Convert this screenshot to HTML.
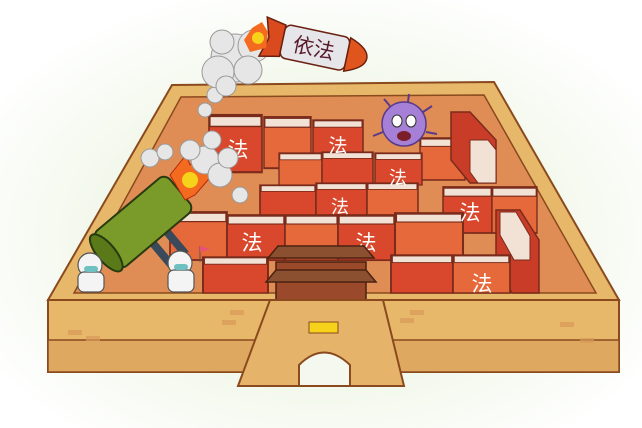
<!DOCTYPE html>
<html><head><meta charset="utf-8"><style>
html,body{margin:0;padding:0;background:#fff}
svg{display:block}
text{font-family:"Liberation Sans","Noto Sans CJK SC",sans-serif}
</style></head><body>
<svg width="642" height="428" viewBox="0 0 642 428" xmlns="http://www.w3.org/2000/svg">
<defs>
<radialGradient id="bg" cx="0.5" cy="0.55" r="0.6">
<stop offset="0.6" stop-color="#f3f8ec"/><stop offset="1" stop-color="#ffffff"/>
</radialGradient>
<g id="bk"><rect x="0" y="0" width="50" height="40" fill="#d9482c" stroke="#7a2b1b" stroke-width="1.5"/><rect x="1" y="1" width="48" height="7" fill="#f2e2d6" stroke="#7a2b1b" stroke-width="1"/></g>
<g id="bko"><rect x="0" y="0" width="50" height="40" fill="#e5693a" stroke="#7a2b1b" stroke-width="1.5"/><rect x="1" y="1" width="48" height="7" fill="#f2e2d6" stroke="#7a2b1b" stroke-width="1"/></g>
</defs>
<rect width="642" height="428" fill="url(#bg)"/>
<!-- wall top -->
<polygon points="172,85 494,82 619,300 48,300" fill="#e8b86a" stroke="#8a4a1e" stroke-width="2"/>
<!-- floor -->
<polygon points="181,97 484,95 596,293 74,293" fill="#df8d55" stroke="#8a4a1e" stroke-width="1.5"/>
<!-- books -->
<use href="#bk" transform="translate(209,115) scale(1.06,1.43)"/>
<use href="#bko" transform="translate(264,117) scale(0.94,1.28)"/>
<use href="#bk" transform="translate(313,120) scale(1,0.9)"/>
<use href="#bko" transform="translate(420,138) scale(0.9,1.05)"/>
<polygon points="451,112 470,112 496,140 496,183 470,183 451,160" fill="#c93c28" stroke="#7a2b1b" stroke-width="1.5"/>
<polygon points="470,140 488,140 496,150 496,183 478,183 470,172" fill="#f2e2d6" stroke="#7a2b1b" stroke-width="1"/>
<use href="#bko" transform="translate(279,153) scale(0.86,0.85)"/>
<use href="#bk" transform="translate(322,152) scale(1.02,0.8)"/>
<use href="#bk" transform="translate(375,153) scale(0.94,0.8)"/>
<use href="#bk" transform="translate(260,185) scale(1.12,0.8)"/>
<use href="#bk" transform="translate(316,183) scale(1.02,0.8)"/>
<use href="#bko" transform="translate(367,183) scale(1.02,0.8)"/>
<use href="#bk" transform="translate(443,187) scale(0.98,1.15)"/>
<use href="#bko" transform="translate(492,187) scale(0.9,1.15)"/>
<use href="#bko" transform="translate(170,212) scale(1.14,1.2)"/>
<use href="#bk" transform="translate(227,215) scale(1.16,1.13)"/>
<use href="#bko" transform="translate(285,215) scale(1.06,1.13)"/>
<use href="#bk" transform="translate(338,215) scale(1.14,1.13)"/>
<use href="#bko" transform="translate(395,213) scale(1.36,1.13)"/>
<polygon points="496,210 520,210 539,240 539,293 512,293 496,265" fill="#c93c28" stroke="#7a2b1b" stroke-width="1.5"/>
<polygon points="500,212 516,212 530,236 530,260 514,260 500,235" fill="#f2e2d6" stroke="#7a2b1b" stroke-width="1"/>
<use href="#bk" transform="translate(203,257) scale(1.3,0.9)"/>
<use href="#bk" transform="translate(391,255) scale(1.24,0.95)"/>
<use href="#bko" transform="translate(453,255) scale(1.14,0.95)"/>
<g fill="#fff" font-size="21" text-anchor="middle">
<text x="238" y="157">法</text><text x="338" y="152" font-size="19">法</text>
<text x="398" y="184" font-size="18">法</text><text x="340" y="213" font-size="18">法</text>
<text x="470" y="220">法</text><text x="252" y="250">法</text><text x="366" y="250">法</text>
<text x="482" y="291">法</text>
</g>
<!-- virus -->
<g>
<circle cx="404" cy="124" r="22" fill="#a67fd6" stroke="#5a3a8a" stroke-width="1.5"/>
<g stroke="#5a3a8a" stroke-width="2"><line x1="390" y1="106" x2="384" y2="99"/><line x1="408" y1="102" x2="409" y2="94"/><line x1="423" y1="112" x2="432" y2="106"/><line x1="383" y1="132" x2="373" y2="136"/><line x1="426" y1="132" x2="437" y2="134"/></g>
<ellipse cx="397" cy="121" rx="5" ry="6" fill="#fff" stroke="#333"/><ellipse cx="411" cy="121" rx="5" ry="6" fill="#fff" stroke="#333"/>
<ellipse cx="404" cy="136" rx="7" ry="5" fill="#7a1f2a"/>
</g>
<!-- pavilion -->
<rect x="276" y="262" width="90" height="38" fill="#9a4a2a" stroke="#4a2210" stroke-width="1.5"/>
<polygon points="268,258 374,258 364,246 278,246" fill="#8a5030" stroke="#4a2210" stroke-width="1.5"/>
<polygon points="266,282 376,282 366,270 276,270" fill="#8a5030" stroke="#4a2210" stroke-width="1.5"/>
<!-- front wall -->
<rect x="48" y="300" width="571" height="72" fill="#e8b86a" stroke="#8a4a1e" stroke-width="2"/>
<rect x="48" y="340" width="571" height="32" fill="#dfa860" stroke="#8a4a1e" stroke-width="1.5"/>
<polygon points="270,300 383,300 404,386 238,386" fill="#e5b46a" stroke="#8a4a1e" stroke-width="2"/>
<path d="M299,386 L299,365 Q324,340 350,365 L350,386 Z" fill="#f4f8ee" stroke="#8a4a1e" stroke-width="2"/>
<rect x="309" y="322" width="29" height="11" fill="#f7d21a" stroke="#8a4a1e"/>
<g fill="#d89a5a" opacity="0.7"><rect x="68" y="330" width="14" height="5"/><rect x="86" y="336" width="14" height="5"/><rect x="230" y="310" width="14" height="5"/><rect x="222" y="320" width="14" height="5"/><rect x="400" y="318" width="14" height="5"/><rect x="410" y="310" width="14" height="5"/><rect x="580" y="338" width="14" height="5"/><rect x="560" y="322" width="14" height="5"/></g>
<!-- cannon -->
<g transform="translate(143,222) rotate(-40)">
<rect x="-10" y="12" width="8" height="40" fill="#3a4a5a"/><rect x="8" y="12" width="8" height="40" fill="#3a4a5a"/>
<rect x="-48" y="-23" width="96" height="46" rx="8" fill="#7a9a2a" stroke="#2a3a10" stroke-width="2"/>
<ellipse cx="-48" cy="0" rx="9" ry="23" fill="#5a7a1a" stroke="#2a3a10" stroke-width="2"/>
</g>
<polygon points="170,175 186,155 190,165 205,150 200,170 215,172 195,195 185,200" fill="#f46a1e" stroke="#b02a10"/>
<circle cx="190" cy="180" r="8" fill="#f7d21a"/>
<!-- smoke -->
<g fill="#e6e6e6" stroke="#999" stroke-width="1">
<circle cx="205" cy="160" r="14"/><circle cx="220" cy="175" r="12"/><circle cx="150" cy="158" r="9"/><circle cx="165" cy="152" r="8"/><circle cx="212" cy="140" r="9"/><circle cx="240" cy="195" r="8"/><circle cx="205" cy="110" r="7"/><circle cx="215" cy="95" r="8"/>
<circle cx="190" cy="150" r="10"/><circle cx="228" cy="158" r="10"/>
<circle cx="235" cy="58" r="24"/><circle cx="218" cy="72" r="16"/><circle cx="254" cy="46" r="16"/><circle cx="248" cy="70" r="14"/><circle cx="226" cy="86" r="10"/><circle cx="222" cy="42" r="12"/>
</g>
<!-- doctors -->
<g fill="#f4f4f4" stroke="#555" stroke-width="1.2">
<circle cx="90" cy="265" r="12"/><rect x="78" y="272" width="26" height="20" rx="6"/>
<circle cx="180" cy="263" r="12"/><rect x="168" y="270" width="26" height="22" rx="6"/>
</g>
<g fill="#6fc0c0"><rect x="84" y="266" width="14" height="6" rx="3"/><rect x="174" y="264" width="14" height="6" rx="3"/></g>
<line x1="200" y1="262" x2="200" y2="246" stroke="#555"/><polygon points="200,246 210,249 200,252" fill="#e8507a"/>
<!-- rocket -->
<g transform="translate(312,47) rotate(12)">
<polygon points="-50,-20 -30,-16 -30,16 -50,20 -44,0" fill="#d94a1e" stroke="#6a2010" stroke-width="1.5"/>
<rect x="-30" y="-17" width="66" height="34" rx="6" fill="#e6e6ea" stroke="#6a2010" stroke-width="1.5"/>
<path d="M36,-17 Q56,-10 56,0 Q56,10 36,17 Z" fill="#e0551e" stroke="#6a2010" stroke-width="1.5"/>
<text x="2" y="8" font-size="21" fill="#5a1c2a" text-anchor="middle">依法</text>
</g>
<polygon points="252,28 262,22 268,32 266,48 250,52 244,40" fill="#f46a1e"/>
<circle cx="258" cy="38" r="6" fill="#f7d21a"/>
</svg>
</body></html>
